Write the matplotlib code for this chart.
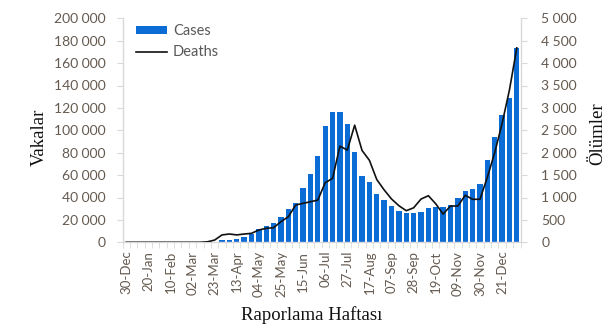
import matplotlib
matplotlib.use("Agg")
import matplotlib.pyplot as plt
from matplotlib.ticker import FuncFormatter, FixedLocator

# haftalar (30-Dec-2019 .. 04-Jan-2021)
weeks = ["30-Dec", "06-Jan", "13-Jan", "20-Jan", "27-Jan", "03-Feb", "10-Feb", "17-Feb",
         "24-Feb", "02-Mar", "09-Mar", "16-Mar", "23-Mar", "30-Mar", "06-Apr", "13-Apr",
         "20-Apr", "27-Apr", "04-May", "11-May", "18-May", "25-May", "01-Jun", "08-Jun",
         "15-Jun", "22-Jun", "29-Jun", "06-Jul", "13-Jul", "20-Jul", "27-Jul", "03-Aug",
         "10-Aug", "17-Aug", "24-Aug", "31-Aug", "07-Sep", "14-Sep", "21-Sep", "28-Sep",
         "05-Oct", "12-Oct", "19-Oct", "26-Oct", "02-Nov", "09-Nov", "16-Nov", "23-Nov",
         "30-Nov", "07-Dec", "14-Dec", "21-Dec", "28-Dec", "04-Jan"]

cases = [0, 0, 0, 0, 0, 0, 0, 0, 0, 0, 0, 0, 300,
         2000, 2000, 3000, 5000, 7700, 11600, 14600, 17000, 22300, 29700, 34800,
         48200, 60700, 76800, 103900, 116600, 115900, 105900, 81000, 59500, 54000,
         43100, 37800, 32000, 28200, 26000, 26000, 27000, 30300, 31200, 31800,
         33000, 39500, 45800, 47300, 52100, 73500, 93800, 113700, 129100, 173800]

deaths = [0, 0, 0, 0, 0, 0, 0, 0, 0, 0, 0, 10, 50,
          165, 185, 165, 185, 200, 275, 312, 326, 460, 571, 832,
          870, 905, 943, 1330, 1427, 2147, 2058, 2615, 2050, 1830,
          1400, 1170, 967, 817, 705, 770, 965, 1040, 860, 630,
          810, 810, 1050, 960, 960, 1450, 2000, 2650, 3400, 4340]

W, H = 609, 327
fig = plt.figure(figsize=(W / 100, H / 100), dpi=100)
ax = fig.add_axes([122.5 / W, 1 - 242.3 / H, 398 / W, 224 / H])
ax2 = ax.twinx()

tick_col = "#655a50"
axis_col = "#d9d9d9"
sans = "Lato"
serif = "Liberation Serif"

x = list(range(len(weeks)))
bars = ax.bar(x, cases, width=0.72, color="#0a6cd4", zorder=2)
line, = ax2.plot(x, deaths, color="#111111", lw=1.2, zorder=3)

ax.set_xlim(-0.5, len(weeks) - 0.5)
ax.set_ylim(0, 200000)
ax2.set_ylim(0, 5000)
ax.set_yticks(range(0, 200001, 20000))
ax2.set_yticks(range(0, 5001, 500))
fmt = FuncFormatter(lambda v, p: f"{v:,.0f}".replace(",", " "))
ax.yaxis.set_major_formatter(fmt)
ax2.yaxis.set_major_formatter(fmt)

lab_idx = list(range(0, len(weeks), 3))
ax.set_xticks(lab_idx)
ax.set_xticklabels([weeks[i] for i in lab_idx], rotation=90)
ax.xaxis.set_minor_locator(FixedLocator([i + 0.5 for i in range(-1, len(weeks))]))
ax.tick_params(axis="x", which="major", length=0, pad=6, labelsize=9.5,
               labelcolor=tick_col)
ax.tick_params(axis="x", which="minor", length=4, color=axis_col)
ax.tick_params(axis="y", length=4, color=axis_col, pad=8, labelsize=10,
               labelcolor=tick_col)
ax2.tick_params(axis="y", length=4, color=axis_col, pad=11, labelsize=10,
                labelcolor=tick_col)

for a in (ax, ax2):
    for lbl in a.get_xticklabels() + a.get_yticklabels():
        lbl.set_fontfamily(sans)
    a.spines["top"].set_visible(False)
    for s in ("left", "right", "bottom"):
        a.spines[s].set_color(axis_col)
        a.spines[s].set_linewidth(1.0)
ax.spines["right"].set_visible(False)
ax2.spines["left"].set_visible(False)
ax2.spines["bottom"].set_visible(False)

leg = ax2.legend([bars, line], ["Cases", "Deaths"], loc="upper left",
                 bbox_to_anchor=(0.035, 0.975), frameon=False, borderpad=0,
                 borderaxespad=0, handlelength=2.1, handleheight=0.45,
                 handletextpad=0.4, labelspacing=0.5,
                 prop={"family": sans, "size": 10.5})
for t in leg.get_texts():
    t.set_color("#595959")

fig.text(312 / W, 1 - 315 / H, "Raporlama Haftası", ha="center", va="center",
         fontsize=13.5, family=serif, color="#111111")
fig.text(39 / W, 1 - 137 / H, "Vakalar", ha="center", va="center", rotation=90,
         fontsize=13.5, family=serif, color="#111111")
fig.text(598 / W, 1 - 134 / H, "Ölümler", ha="center", va="center", rotation=90,
         fontsize=13.5, family=serif, color="#111111")

fig.savefig("out.png", dpi=100)
